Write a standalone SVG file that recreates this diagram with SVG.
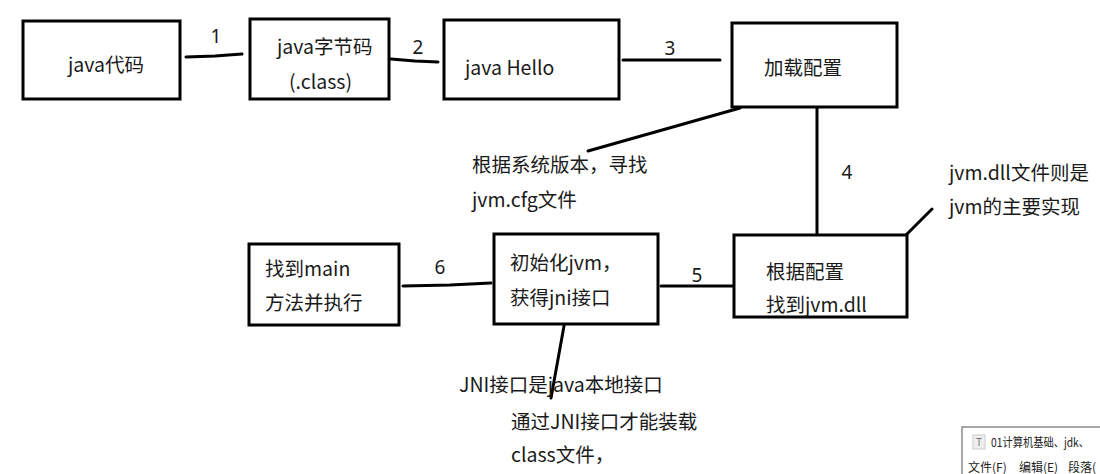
<svg xmlns="http://www.w3.org/2000/svg" width="1100" height="474" viewBox="0 0 1100 474">
<style>
  .box { fill: #ffffff; stroke: #000000; stroke-width: 3; }
  .ln { fill: none; stroke: #000000; stroke-width: 3; stroke-linecap: round; }
  .t { font-family: "Noto Sans CJK SC", "Noto Sans", sans-serif; font-size: 19.5px; fill: #1a1a1a; }
  .n { font-family: "Noto Sans", "Noto Sans CJK SC", sans-serif; font-size: 19px; fill: #1a1a1a; text-anchor: middle; }
  .s { font-family: "Noto Sans CJK SC", "Noto Sans", sans-serif; font-size: 12px; fill: #222222; }
</style>
<rect width="1100" height="474" fill="#ffffff"/>

<g id="connectors">
  <polyline class="ln" points="186,57 215,56 242,54"/>
  <polyline class="ln" points="391,59 415,61 438,62"/>
  <line class="ln" x1="623" y1="60" x2="720" y2="60"/>
  <line class="ln" x1="817" y1="107" x2="817" y2="235"/>
  <line class="ln" x1="661" y1="286" x2="734" y2="286"/>
  <polyline class="ln" points="403,286 450,285 491,283"/>
  <line class="ln" x1="740" y1="108" x2="588" y2="151"/>
  <line class="ln" x1="906" y1="235" x2="932" y2="209"/>
  <line class="ln" x1="564" y1="326" x2="551" y2="398"/>
  <text class="n" x="216" y="43">1</text>
  <text class="n" x="418" y="54">2</text>
  <text class="n" x="670" y="55">3</text>
  <text class="n" x="847" y="179">4</text>
  <text class="n" x="697" y="282">5</text>
  <text class="n" x="440" y="274">6</text>
</g>

<g id="node-java-code">
  <rect class="box" x="23" y="21" width="157" height="78"/>
  <text class="t" x="68" y="72">java代码</text>
</g>
<g id="node-bytecode">
  <rect class="box" x="250" y="19" width="139" height="80"/>
  <text class="t" x="277" y="54">java字节码</text>
  <text class="t" x="289" y="89">(.class)</text>
</g>
<g id="node-java-hello">
  <rect class="box" x="444" y="20" width="175" height="79"/>
  <text class="t" x="465" y="75">java Hello</text>
</g>
<g id="node-load-config">
  <rect class="box" x="732" y="23" width="165" height="84"/>
  <text class="t" x="764" y="75">加载配置</text>
</g>
<g id="node-find-dll">
  <rect class="box" x="734" y="235" width="173" height="82"/>
  <text class="t" x="766" y="279">根据配置</text>
  <text class="t" x="766" y="312">找到jvm.dll</text>
</g>
<g id="node-init-jvm">
  <rect class="box" x="494" y="234" width="164" height="90"/>
  <text class="t" x="510" y="270">初始化jvm，</text>
  <text class="t" x="510" y="305">获得jni接口</text>
</g>
<g id="node-find-main">
  <rect class="box" x="249" y="244" width="150" height="81"/>
  <text class="t" x="265" y="276">找到main</text>
  <text class="t" x="265" y="310">方法并执行</text>
</g>

<g id="note-cfg">
  <text class="t" x="472" y="172">根据系统版本，寻找</text>
  <text class="t" x="472" y="207">jvm.cfg文件</text>
</g>
<g id="note-dll">
  <text class="t" x="949" y="180">jvm.dll文件则是</text>
  <text class="t" x="949" y="214">jvm的主要实现</text>
</g>
<g id="note-jni">
  <text class="t" x="459" y="392">JNI接口是java本地接口</text>
  <text class="t" x="511" y="429">通过JNI接口才能装载</text>
  <text class="t" x="511" y="462">class文件，</text>
</g>

<g id="window-fragment">
  <path d="M962,474 V427 H1100" fill="#ffffff" stroke="#8a8a8a" stroke-width="1.5"/>
  <rect x="973" y="435" width="12" height="14" fill="#eeeeee" stroke="#cccccc" stroke-width="1"/>
  <text x="979" y="446" font-family="Noto Sans, sans-serif" font-size="10px" fill="#777777" text-anchor="middle">T</text>
  <text class="s" x="991" y="447" textLength="98" lengthAdjust="spacingAndGlyphs">01计算机基础、jdk、</text>
  <text class="s" x="968" y="472">文件(F)</text>
  <text class="s" x="1019" y="472">编辑(E)</text>
  <text class="s" x="1068" y="472">段落(</text>
</g>
</svg>
